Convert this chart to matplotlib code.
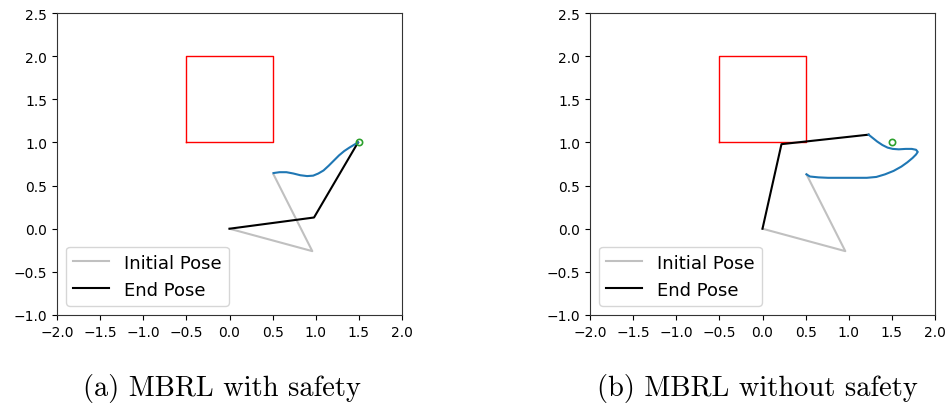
import numpy as np
import matplotlib.pyplot as plt

# poses: base -> elbow -> end effector
init_x = [0.0, 0.96, 0.51]
init_y = [0.0, -0.26, 0.63]

end_a_x = [0.0, 0.98, 1.49]
end_a_y = [0.0, 0.13, 1.0]
end_b_x = [0.0, 0.22, 1.23]
end_b_y = [0.0, 0.98, 1.09]

goal = (1.5, 1.0)
obstacle_x = [-0.5, 0.5, 0.5, -0.5, -0.5]
obstacle_y = [1.0, 1.0, 2.0, 2.0, 1.0]

# end-effector trajectories
traj_a_x = [0.51, 0.58, 0.66, 0.74, 0.82, 0.90, 0.97, 1.03, 1.09, 1.15, 1.21, 1.27, 1.33, 1.39, 1.44, 1.49]
traj_a_y = [0.645, 0.655, 0.655, 0.640, 0.620, 0.610, 0.615, 0.640, 0.675, 0.730, 0.790, 0.850, 0.900, 0.940, 0.970, 1.0]

traj_b_x = [0.51, 0.55, 0.65, 0.76, 0.86, 1.00, 1.12, 1.21, 1.32, 1.42, 1.52, 1.61, 1.68, 1.74, 1.78, 1.80, 1.78,
            1.73, 1.66, 1.58, 1.51, 1.45, 1.39, 1.33, 1.28, 1.23]
traj_b_y = [0.63, 0.605, 0.595, 0.59, 0.59, 0.59, 0.59, 0.59, 0.60, 0.63, 0.67, 0.72, 0.77, 0.82, 0.86, 0.89, 0.915,
            0.925, 0.925, 0.92, 0.925, 0.94, 0.97, 1.01, 1.05, 1.09]

captions = ["(a) MBRL with safety", "(b) MBRL without safety"]
ends = [(end_a_x, end_a_y), (end_b_x, end_b_y)]
trajs = [(traj_a_x, traj_a_y), (traj_b_x, traj_b_y)]

fig = plt.figure(figsize=(9.49, 4.10), dpi=100)
lefts = [57 / 949, 590 / 949]
cap_x = [222 / 949, 757 / 949]

for i in range(2):
    ax = fig.add_axes([lefts[i], 1 - 316 / 410, 345 / 949, 302 / 410])
    ax.plot(obstacle_x, obstacle_y, color='red', lw=1)
    ax.plot(init_x, init_y, color='#c0c0c0', lw=1.5, label='Initial Pose')
    ax.plot(ends[i][0], ends[i][1], color='black', lw=1.5, label='End Pose')
    ax.plot(trajs[i][0], trajs[i][1], color='#1f77b4', lw=1.5)
    ax.plot(goal[0], goal[1], 'o', mfc='none', mec='#2ca02c', ms=4.5, mew=1.2)
    ax.set_xlim(-2, 2)
    ax.set_ylim(-1, 2.5)
    ax.set_xticks(np.arange(-2, 2.01, 0.5))
    ax.set_yticks(np.arange(-1, 2.51, 0.5))
    ax.tick_params(labelsize=10)
    for s in ax.spines.values():
        s.set_color('#333333')
    ax.legend(loc='lower left', fontsize=13)
    fig.text(cap_x[i], 1 - 389 / 410, captions[i], ha='center', va='center',
             fontsize=20.5, family='cmr10')

fig.savefig('out.png', dpi=100)
